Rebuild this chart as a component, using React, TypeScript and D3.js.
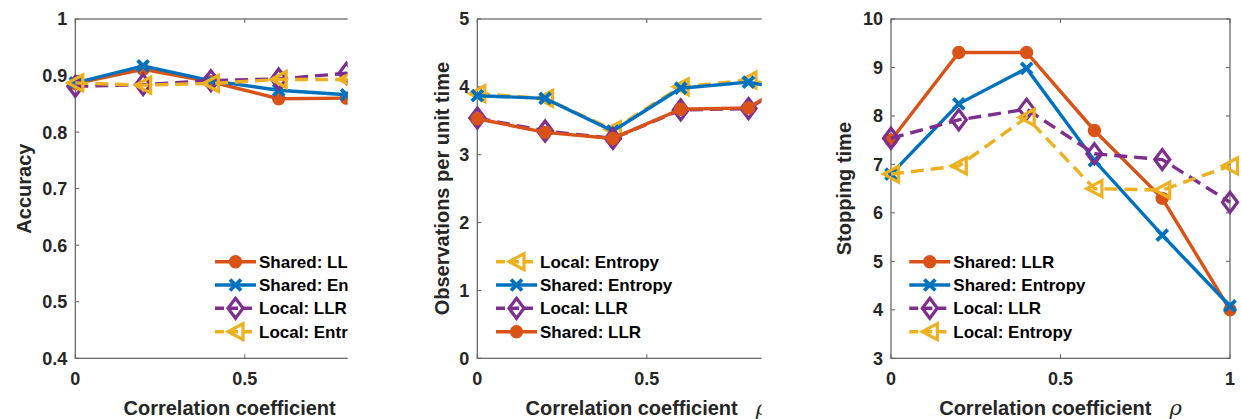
import { useEffect, useRef } from 'react';
import * as d3 from 'd3';

const rho = [0, 0.2, 0.4, 0.6, 0.8, 1];

// accuracy
const accSharedLLR = [0.886, 0.911, 0.889, 0.859, 0.860, 0.862];
const accSharedEnt = [0.887, 0.917, 0.891, 0.874, 0.866, 0.868];
const accLocalLLR = [0.881, 0.884, 0.891, 0.894, 0.904, 0.900];
const accLocalEnt = [0.887, 0.883, 0.886, 0.893, 0.893, 0.895];

// observations per unit time
const obsLocalEnt = [3.90, 3.83, 3.37, 4.00, 4.10, 3.90];
const obsSharedEnt = [3.87, 3.83, 3.35, 3.98, 4.07, 3.88];
const obsLocalLLR = [3.54, 3.35, 3.24, 3.66, 3.68, 4.30];
const obsSharedLLR = [3.53, 3.33, 3.24, 3.67, 3.69, 4.31];

// stopping time
const stopSharedLLR = [7.5, 9.31, 9.31, 7.7, 6.3, 4.0];
const stopSharedEnt = [6.8, 8.25, 8.98, 7.08, 5.54, 4.08];
const stopLocalLLR = [7.54, 7.92, 8.14, 7.22, 7.1, 6.22];
const stopLocalEnt = [6.8, 6.97, 7.97, 6.5, 6.47, 6.97];

const xTicks = [0, 0.5, 1];
const accTicks = [0.4, 0.5, 0.6, 0.7, 0.8, 0.9, 1];
const obsTicks = [0, 1, 2, 3, 4, 5];
const stopTicks = [3, 4, 5, 6, 7, 8, 9, 10];

type Kind = 'sharedLLR' | 'sharedEnt' | 'localLLR' | 'localEnt';

const style: Record<Kind, { color: string; dash: string | null; label: string }> = {
  sharedLLR: { color: '#D95319', dash: null, label: 'Shared: LLR' },
  sharedEnt: { color: '#0072BD', dash: null, label: 'Shared: Entropy' },
  localLLR: { color: '#7E2F8E', dash: '13,7', label: 'Local: LLR' },
  localEnt: { color: '#EDB120', dash: '13,7', label: 'Local: Entropy' },
};

interface Panel {
  left: number;
  clip: [number, number];
  yDomain: [number, number];
  yTicks: number[];
  yLabel: string;
  yLabelX: number;
  legendX: number;
  series: { kind: Kind; values: number[] }[];
  fmt: (v: number) => string;
}

const panels: Panel[] = [
  {
    left: 75.3, clip: [0, 347.7], yDomain: [0.4, 1], yTicks: accTicks,
    yLabel: 'Accuracy', yLabelX: 30.5, legendX: 215,
    series: [
      { kind: 'sharedLLR', values: accSharedLLR },
      { kind: 'sharedEnt', values: accSharedEnt },
      { kind: 'localLLR', values: accLocalLLR },
      { kind: 'localEnt', values: accLocalEnt },
    ],
    fmt: v => (v === 1 ? '1' : d3.format('.1f')(v)),
  },
  {
    left: 477.3, clip: [347.7, 761.7], yDomain: [0, 5], yTicks: obsTicks,
    yLabel: 'Observations per unit time', yLabelX: 449, legendX: 496,
    series: [
      { kind: 'localEnt', values: obsLocalEnt },
      { kind: 'sharedEnt', values: obsSharedEnt },
      { kind: 'localLLR', values: obsLocalLLR },
      { kind: 'sharedLLR', values: obsSharedLLR },
    ],
    fmt: v => String(v),
  },
  {
    left: 891, clip: [761.7, 1241], yDomain: [3, 10], yTicks: stopTicks,
    yLabel: 'Stopping time', yLabelX: 851, legendX: 909.3,
    series: [
      { kind: 'sharedLLR', values: stopSharedLLR },
      { kind: 'sharedEnt', values: stopSharedEnt },
      { kind: 'localLLR', values: stopLocalLLR },
      { kind: 'localEnt', values: stopLocalEnt },
    ],
    fmt: v => String(v),
  },
];

const W = 1241;
const H = 419;
const top = 19;
const bottom = 358.3;
const plotW = 339;
const font = '"Liberation Sans", Arial, Helvetica, sans-serif';
const textColor = '#262626';
const axisColor = '#5f5f5f';

function drawMarker(g: d3.Selection<SVGGElement, unknown, null, undefined>, kind: Kind, x: number, y: number) {
  const c = style[kind].color;
  if (kind === 'sharedLLR') {
    g.append('circle').attr('cx', x).attr('cy', y).attr('r', 5.8)
      .attr('fill', c).attr('stroke', c).attr('stroke-width', 1.8);
  } else if (kind === 'sharedEnt') {
    const s = 5.5;
    g.append('path')
      .attr('d', `M${x - s},${y - s}L${x + s},${y + s}M${x - s},${y + s}L${x + s},${y - s}`)
      .attr('stroke', c).attr('stroke-width', 3.8).attr('fill', 'none');
  } else if (kind === 'localLLR') {
    const w = 7.5, h = 10;
    g.append('path')
      .attr('d', `M${x},${y - h}L${x + w},${y}L${x},${y + h}L${x - w},${y}Z`)
      .attr('stroke', c).attr('stroke-width', 3.2).attr('fill', 'none');
  } else {
    const w = 7.5, h = 8;
    g.append('path')
      .attr('d', `M${x - w},${y}L${x + w},${y - h}L${x + w},${y + h}Z`)
      .attr('stroke', c).attr('stroke-width', 3.2).attr('fill', 'none')
      .attr('stroke-linejoin', 'miter');
  }
}

export default function App() {
  const ref = useRef<SVGSVGElement | null>(null);

  useEffect(() => {
    const svg = d3.select(ref.current);
    svg.selectAll('*').remove();
    const defs = svg.append('defs');

    panels.forEach((p, pi) => {
      defs.append('clipPath').attr('id', `clip${pi}`)
        .append('rect').attr('x', p.clip[0]).attr('y', 0)
        .attr('width', p.clip[1] - p.clip[0]).attr('height', H);

      const g = svg.append('g').attr('clip-path', `url(#clip${pi})`);
      const x = d3.scaleLinear().domain([0, 1]).range([p.left, p.left + plotW]);
      const y = d3.scaleLinear().domain(p.yDomain).range([bottom, top]);

      g.append('rect').attr('x', p.left).attr('y', top)
        .attr('width', plotW).attr('height', bottom - top)
        .attr('fill', 'white').attr('stroke', axisColor).attr('stroke-width', 1.2);

      // ticks (inward, box on)
      xTicks.forEach(t => {
        g.append('line').attr('x1', x(t)).attr('x2', x(t)).attr('y1', bottom).attr('y2', bottom - 4)
          .attr('stroke', axisColor);
        g.append('line').attr('x1', x(t)).attr('x2', x(t)).attr('y1', top).attr('y2', top + 4)
          .attr('stroke', axisColor);
        g.append('text').attr('x', x(t)).attr('y', 385).attr('text-anchor', 'middle')
          .attr('font-family', font).attr('font-weight', 'bold').attr('font-size', 18)
          .attr('fill', textColor).text(String(t));
      });
      p.yTicks.forEach(t => {
        g.append('line').attr('x1', p.left).attr('x2', p.left + 4).attr('y1', y(t)).attr('y2', y(t))
          .attr('stroke', axisColor);
        g.append('line').attr('x1', p.left + plotW).attr('x2', p.left + plotW - 4).attr('y1', y(t)).attr('y2', y(t))
          .attr('stroke', axisColor);
        g.append('text').attr('x', p.left - 8).attr('y', y(t)).attr('dy', '0.36em')
          .attr('text-anchor', 'end')
          .attr('font-family', font).attr('font-weight', 'bold').attr('font-size', 18)
          .attr('fill', textColor).text(p.fmt(t));
      });

      // axis labels
      const xl = g.append('text').attr('x', x(0.5)).attr('y', 415).attr('text-anchor', 'middle')
        .attr('font-family', font).attr('font-weight', 'bold').attr('font-size', 20)
        .attr('fill', textColor);
      xl.append('tspan').text('Correlation coefficient');
      xl.append('tspan').attr('dx', 18).attr('dy', 0)
        .attr('font-family', '"DejaVu Serif", serif').attr('font-style', 'italic')
        .attr('font-weight', 'normal').attr('font-size', 21).text('ρ');

      g.append('text')
        .attr('transform', `translate(${p.yLabelX},${(top + bottom) / 2}) rotate(-90)`)
        .attr('text-anchor', 'middle')
        .attr('font-family', font).attr('font-weight', 'bold').attr('font-size', 20)
        .attr('fill', textColor).text(p.yLabel);

      // series
      const line = d3.line<number>().x((_, i) => x(rho[i])).y(d => y(d));
      p.series.forEach(s => {
        const st = style[s.kind];
        const sg = g.append('g');
        sg.append('path').attr('d', line(s.values))
          .attr('fill', 'none').attr('stroke', st.color).attr('stroke-width', 3.4)
          .attr('stroke-dasharray', st.dash ?? null);
        s.values.forEach((v, i) => drawMarker(sg, s.kind, x(rho[i]), y(v)));
      });

      // legend
      const rows = [261.7, 285, 308.3, 331.7];
      p.series.forEach((s, i) => {
        const st = style[s.kind];
        const lg = g.append('g');
        const x0 = p.legendX, x1 = p.legendX + 41;
        lg.append('line').attr('x1', x0).attr('x2', x1).attr('y1', rows[i]).attr('y2', rows[i])
          .attr('stroke', st.color).attr('stroke-width', 3.4)
          .attr('stroke-dasharray', st.dash ? '9,5' : null);
        drawMarker(lg, s.kind, (x0 + x1) / 2, rows[i]);
        lg.append('text').attr('x', x1 + 3).attr('y', rows[i]).attr('dy', '0.36em')
          .attr('font-family', font).attr('font-weight', 'bold').attr('font-size', 17)
          .attr('fill', '#000').text(st.label);
      });
    });
  }, []);

  return (
    <svg
      ref={ref}
      width={W}
      height={H}
      style={{ position: 'absolute', left: 0, top: 0, background: 'white' }}
    />
  );
}
